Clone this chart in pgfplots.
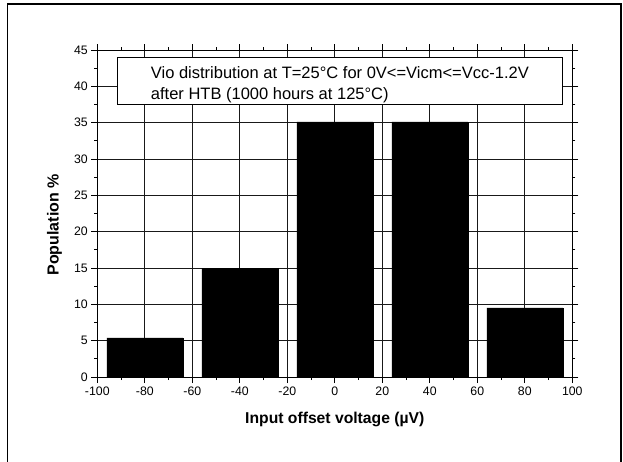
\documentclass[border=0pt]{standalone}
\usepackage{pgfplots}
\pgfplotsset{compat=1.18}
\usepackage{fontspec}
\setmainfont{Liberation Sans}
\begin{document}
\begin{tikzpicture}[x=1pt,y=1pt]
\useasboundingbox (0,0) rectangle (623,461);
\draw[line width=1.8pt] (7.5,-2) -- (7.5,457) -- (621,457) -- (621,-2);
\begin{axis}[
  at={(97.3pt,84pt)}, anchor=south west,
  scale only axis, width=475pt, height=327pt,
  xmin=-100, xmax=100, ymin=0, ymax=45,
  xtick={-100,-80,...,100}, ytick={0,5,...,45},
  minor x tick num=1, minor y tick num=1,
  tick align=outside, major tick length=6pt, minor tick length=3pt,
  grid=major, major grid style={black!90, line width=0.7pt},
  axis line style={line width=1pt},
  tick style={black, line width=0.8pt},
  /pgf/number format/assume math mode=true,
  ticklabel style={font=\fontsize{12.3}{14}\selectfont, text=black},
  xlabel={Input offset voltage (µV)},
  ylabel={Population \%},
  xlabel style={font=\bfseries\fontsize{15.7}{18}\selectfont, at={(axis description cs:0.5,-0.142)}, anchor=base},
  ylabel style={font=\bfseries\fontsize{16}{19}\selectfont, at={(axis description cs:-0.09,0.465)}, anchor=center},
]
\addplot[ybar, bar width=32, fill=black, draw=black] coordinates {(-80,5.4) (-40,15) (0,35.1) (40,35.1) (80,9.5)};
\draw[fill=white, line width=0.8pt] (axis cs:-91.6,44.0) rectangle (axis cs:96.0,37.5);
\node[anchor=base west, font=\fontsize{16.5}{19}\selectfont, inner sep=0pt] at (axis cs:-77.5,41.1) {Vio distribution at T=25°C for 0V<=Vicm<=Vcc-1.2V};
\node[anchor=base west, font=\fontsize{16.5}{19}\selectfont, inner sep=0pt] at (axis cs:-77.5,38.2) {after HTB (1000 hours at 125°C)};
\end{axis}
\end{tikzpicture}
\end{document}
